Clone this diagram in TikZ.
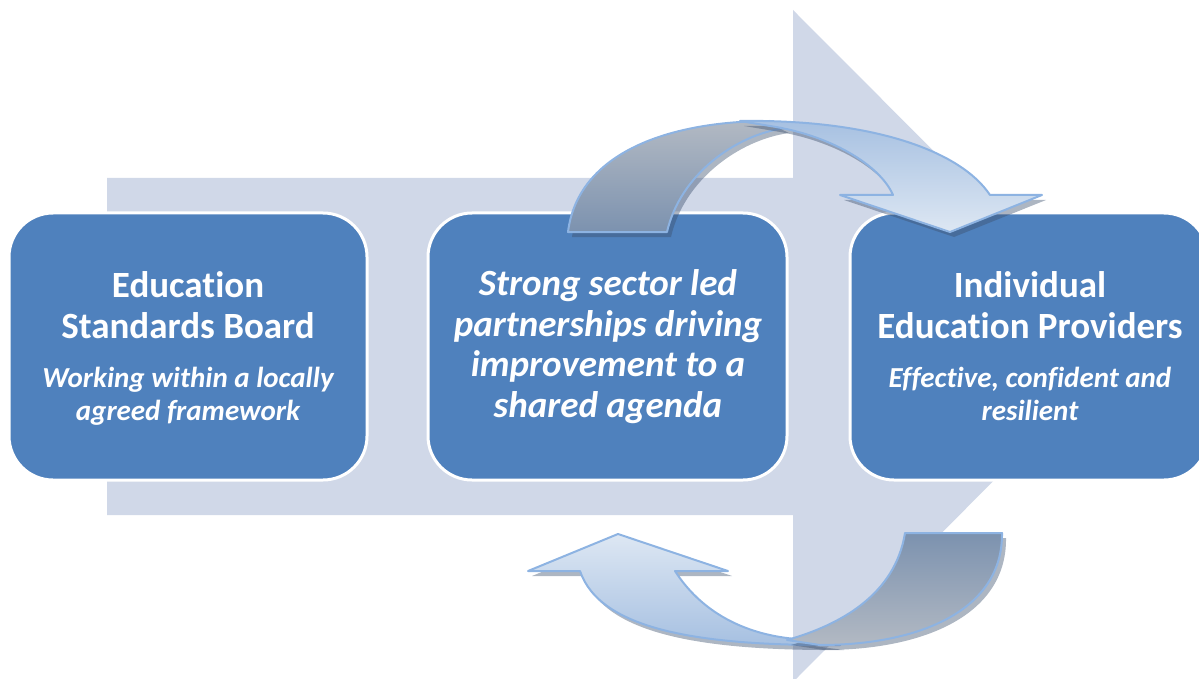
\documentclass[tikz,border=0pt]{standalone}
\usepackage{fontspec}
\setmainfont{Carlito}[Ligatures=CommonOff]
\definecolor{bigarrow}{RGB}{208,216,232}
\definecolor{boxblue}{RGB}{79,129,189}
\definecolor{ribbonline}{RGB}{141,179,226}
\definecolor{greyhi}{RGB}{178,185,195}
\definecolor{greylo}{RGB}{124,146,175}
\definecolor{palehi}{RGB}{221,231,243}
\definecolor{palelo}{RGB}{166,192,225}
\definecolor{shadowc}{RGB}{60,80,110}
\tikzset{
  panel/.style={draw=white, line width=3pt, fill=boxblue, rounded corners=44pt,
    minimum width=358pt, minimum height=267pt, inner sep=0pt},
  headtext/.style={text=white, align=center, inner sep=0pt,
    font=\bfseries\fontsize{37}{41}\selectfont},
  subtext/.style={text=white, align=center, inner sep=0pt,
    font=\bfseries\itshape\fontsize{29}{32.5}\selectfont},
  midtext/.style={text=white, align=center, inner sep=0pt,
    font=\bfseries\itshape\fontsize{37}{40.5}\selectfont},
  ribbon/.style={draw=ribbonline, line width=2pt, line join=round},
  ribbonshadow/.style={fill=shadowc, fill opacity=0.42, draw=none, shift={(4,5)}},
}
\begin{document}
\begin{tikzpicture}[x=1pt,y=-1pt]
\useasboundingbox (0,0) rectangle (1199,679);

% broad background arrow
\fill[bigarrow] (107,178) -- (793,178) -- (793,10) -- (1128,346)
  -- (793,682) -- (793,515) -- (107,515) -- cycle;

% the three panels
\node[panel] (esb) at (188,346.5) {};
\node[panel, minimum width=359pt] (spl) at (607.5,346.5) {};
\node[panel] (iep) at (1029,346.5) {};

% panel texts (base anchor sits on the last line)
\node[headtext, anchor=base] (esbhead) at (188,338) {Education\\Standards Board};
\node[subtext, anchor=base] (esbsub) at (188,420) {Working within a locally\\agreed framework};
\node[midtext, anchor=base] (spltext) at (608,417) {Strong sector led\\partnerships driving\\improvement to a\\shared agenda};
\node[headtext, anchor=base] (iephead) at (1030,338) {Individual\\Education Providers};
\node[subtext, anchor=base] (iepsub) at (1030,420) {Effective, confident and\\resilient};

% upper curved arrow: rising grey band, then pale band with head
\def\upgrey{(568,232) .. controls (578,152) and (670,121) .. (770,121)
  -- (785,128) .. controls (735,135) and (680,175) .. (667,232) -- cycle}
\def\uppale{(740,121) .. controls (870,119) and (960,150) .. (990,195)
  -- (1042,195) -- (950,232) -- (840,195) -- (893,195)
  .. controls (880,165) and (830,135) .. (770,126) -- cycle}
\fill[ribbonshadow] \upgrey;
\shade[top color=greyhi, bottom color=greylo] \upgrey;
\draw[ribbon] \upgrey;
\fill[ribbonshadow] \uppale;
\shade[top color=palelo, bottom color=palehi] \uppale;
\draw[ribbon] \uppale;

% lower curved arrow: pale band with head, then falling grey band
\def\lowpale{(528,571) -- (618,534) -- (728,571) -- (675,571)
  .. controls (700,610) and (740,632) .. (787,638)
  -- (840,645) .. controls (700,646) and (600,630) .. (580,571) -- cycle}
\def\lowgrey{(905,533) -- (1002,533) .. controls (1003,610) and (920,645) .. (820,645)
  -- (787,640) .. controls (840,625) and (895,595) .. (905,533) -- cycle}
\fill[ribbonshadow] \lowpale;
\shade[top color=palehi, bottom color=palelo] \lowpale;
\draw[ribbon] \lowpale;
\fill[ribbonshadow] \lowgrey;
\shade[top color=greylo, bottom color=greyhi] \lowgrey;
\draw[ribbon] \lowgrey;
\end{tikzpicture}
\end{document}
